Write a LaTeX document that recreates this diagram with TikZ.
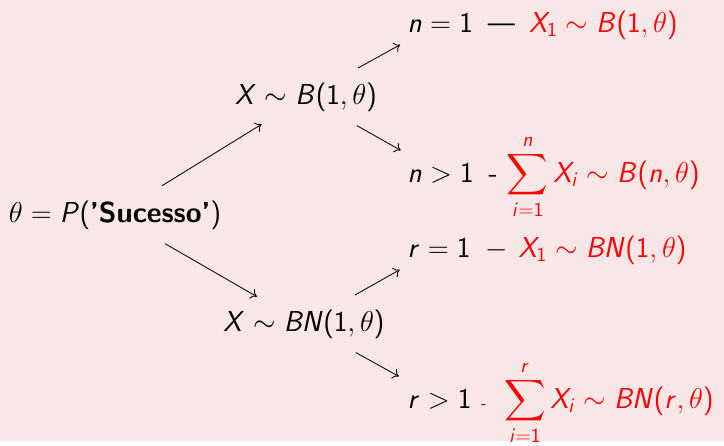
\documentclass[tikz,border=0pt]{standalone}
\usepackage{amsmath}
\usetikzlibrary{positioning,arrows.meta}

% sans math letters, as on a beamer slide
\renewcommand{\familydefault}{\sfdefault}
\DeclareSymbolFont{operators}{OT1}{cmss}{m}{n}
\DeclareSymbolFont{sfletters}{OT1}{cmss}{m}{sl}
\DeclareMathSymbol{X}{\mathalpha}{sfletters}{`X}
\DeclareMathSymbol{B}{\mathalpha}{sfletters}{`B}
\DeclareMathSymbol{N}{\mathalpha}{sfletters}{`N}
\DeclareMathSymbol{P}{\mathalpha}{sfletters}{`P}
\DeclareMathSymbol{n}{\mathalpha}{sfletters}{`n}
\DeclareMathSymbol{r}{\mathalpha}{sfletters}{`r}
\DeclareMathSymbol{i}{\mathalpha}{sfletters}{`i}

\definecolor{slidepink}{RGB}{249,230,231}

\begin{document}
\begin{tikzpicture}[x=0.6pt, y=-0.6pt,
  treenode/.style={font=\LARGE, anchor=base, inner sep=5pt},
  leafnode/.style={font=\LARGE, anchor=base west, inner sep=5pt},
  restnode/.style={font=\LARGE, anchor=base west, inner sep=0pt},
  branch/.style={-{To[length=3.6pt,width=6.4pt]}, line width=0.5pt, shorten <=7pt, shorten >=5pt},
]

%BACKGROUND
\fill[slidepink] (0,0) rectangle (724,441);

%ROOT
\node[treenode] (root) at (115,222) {$\theta = P(\text{\textbf{'Sucesso'}})$};

%BINOMIAL
\node[treenode] (bin) at (306,104) {$X \sim B(1,\theta)$};
\node[leafnode] (n1) at (399,32) {$n = 1$};
\node[restnode] (n1r) at ([xshift=3.6pt]n1.base east) {---\hspace{8.5pt}\textcolor{red}{$X_1 \sim B(1,\theta)$}};
\node[leafnode] (n2) at (399,182) {$n > 1$};
\node[restnode] (n2r) at ([xshift=3.6pt]n2.base east) {-\hspace{5.5pt}\textcolor{red}{$\displaystyle\sum_{i=1}^{n} X_i \sim B(n,\theta)$}};

%NEGATIVE BINOMIAL
\node[treenode] (negbin) at (304,331) {$X \sim BN(1,\theta)$};
\node[leafnode] (r1) at (399,257) {$r = 1$};
\node[restnode] (r1r) at ([xshift=3.6pt]r1.base east) {$-$\hspace{6.5pt}\textcolor{red}{$X_1 \sim BN(1,\theta)$}};
\node[leafnode] (r2) at (399,408) {$r > 1$};
\node[restnode] (r2r) at ([xshift=0.6pt]r2.base east) {{\small -}\hspace{10.5pt}\textcolor{red}{$\displaystyle\sum_{i=1}^{r} X_i \sim BN(r,\theta)$}};

%BRANCHES
\draw[branch] (root) -- (bin);
\draw[branch] (root) -- (negbin);
\draw[branch] (bin) -- (n1);
\draw[branch] (bin) -- (n2);
\draw[branch] (negbin) -- (r1);
\draw[branch] (negbin) -- (r2);

\end{tikzpicture}
\end{document}
